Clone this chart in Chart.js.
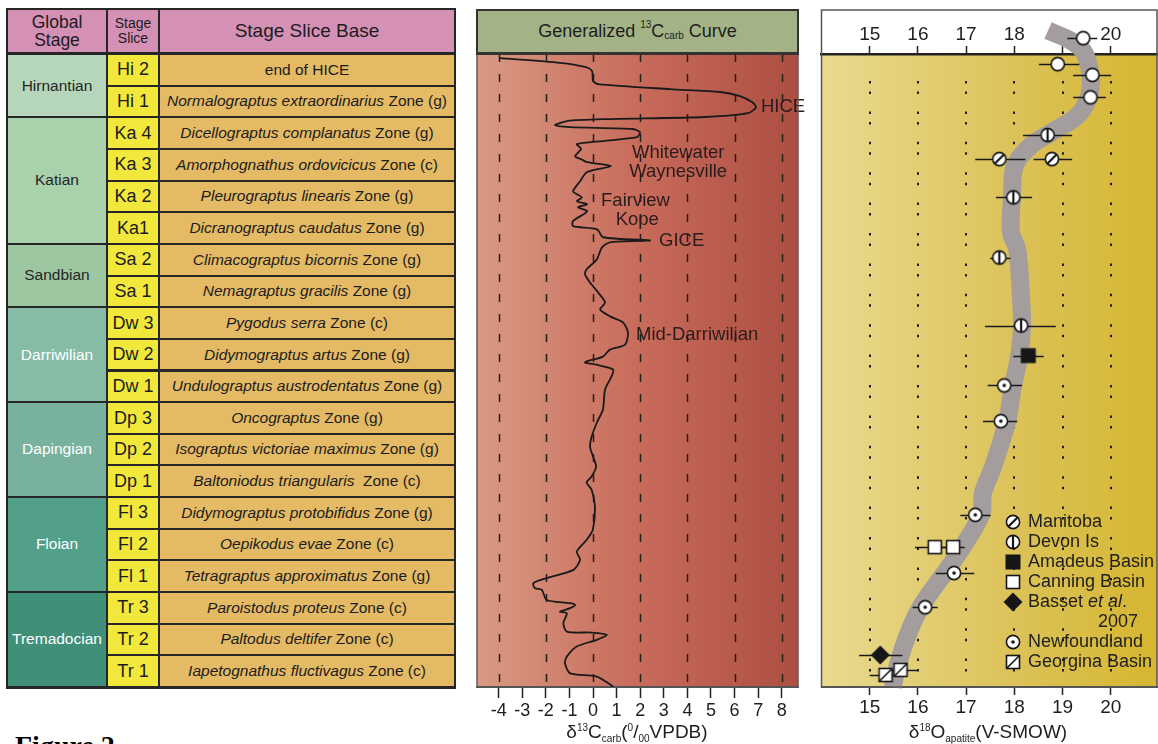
<!DOCTYPE html>
<html>
<head>
<meta charset="utf-8">
<script src="https://cdn.jsdelivr.net/npm/chart.js@4.4.1/dist/chart.umd.min.js"></script>
<style>
  html, body { margin: 0; padding: 0; background: #fff; width: 1158px; height: 744px; overflow: hidden;
    font-family: "Liberation Sans", Arial, sans-serif; }
  .abs { position: absolute; }
  #table { left: 6px; top: 8px; width: 450px; height: 681px; background: #262626; }
  .cell { position: absolute; display: flex; align-items: center; justify-content: center;
    text-align: center; color: #1c1c1c; line-height: 1.05; white-space: nowrap; }
  #c13head { left: 476px; top: 9px; width: 319px; height: 41px; background: #a3b386;
    border: 2px solid #333; border-bottom-width: 3px; display: flex; align-items: center;
    justify-content: center; font-size: 18px; color: #1e1e1e; }
  .up, .dn { font-size: 10px; position: relative; line-height: 0; }
  .up { top: -7px; }
  .dn { top: 4px; }
  .axis-title { width: 220px; text-align: center; font-size: 19px; line-height: 20px; color: #1e1e1e; top: 722px; }
  .fig { left: 15px; top: 732px; font: bold 28px "Liberation Serif", "Times New Roman", serif; line-height: 28px; }
</style>
</head>
<body>
<canvas id="carbon" class="abs" width="340" height="744" style="left:470px; top:0"></canvas>
<canvas id="oxygen" class="abs" width="348" height="744" style="left:810px; top:0"></canvas>
<div id="table" class="abs"></div>
<div id="c13head" class="abs">Generalized&nbsp;<span class="up">13</span>C<span class="dn">carb</span>&nbsp;Curve</div>
<div class="abs axis-title" style="left:527px">δ<span class="up">13</span>C<span class="dn">carb</span>(<span class="up">0</span>/<span class="dn">00</span>VPDB)</div>
<div class="abs axis-title" style="left:878px">δ<span class="up">18</span>O<span class="dn">apatite</span>(V-SMOW)</div>
<div class="abs fig">Figure 2</div>

<script>
//------------------------ DATA ----------------------------

// stratigraphy (top = youngest)
const stageNames = ["Hirnantian", "Katian", "Sandbian", "Darriwilian", "Dapingian", "Floian", "Tremadocian"];
const stageSpans = [2, 4, 2, 3, 3, 3, 3];
const sliceLabels = ["Hi 2", "Hi 1", "Ka 4", "Ka 3", "Ka 2", "Ka1", "Sa 2", "Sa 1", "Dw 3", "Dw 2",
  "Dw 1", "Dp 3", "Dp 2", "Dp 1", "Fl 3", "Fl 2", "Fl 1", "Tr 3", "Tr 2", "Tr 1"];
const zoneTaxa = ["", "Normalograptus extraordinarius", "Dicellograptus complanatus", "Amorphognathus ordovicicus",
  "Pleurograptus linearis", "Dicranograptus caudatus", "Climacograptus bicornis", "Nemagraptus gracilis",
  "Pygodus serra", "Didymograptus artus", "Undulograptus austrodentatus", "Oncograptus",
  "Isograptus victoriae maximus", "Baltoniodus triangularis", "Didymograptus protobifidus", "Oepikodus evae",
  "Tetragraptus approximatus", "Paroistodus proteus", "Paltodus deltifer", "Iapetognathus fluctivagus"];
const zoneTails = ["end of HICE", "Zone (g)", "Zone (g)", "Zone (c)", "Zone (g)", "Zone (g)", "Zone (g)", "Zone (g)",
  "Zone (c)", "Zone (g)", "Zone (g)", "Zone (g)", "Zone (g)", "&nbsp;Zone (c)", "Zone (g)", "Zone (c)",
  "Zone (g)", "Zone (c)", "Zone (c)", "Zone (c)"];

// generalized d13C curve: row position (0 = top of Hi 2, 20 = base of Tr 1) and value (permil)
const c13Rows = [0.13, 0.28, 0.41, 0.54, 0.85, 0.95, 1.11, 1.20, 1.33, 1.52, 1.68, 1.87, 1.99, 2.06, 2.12, 2.25,
  2.31, 2.37, 2.47, 2.63, 2.75, 2.85, 3.00, 3.23, 3.32, 3.42, 3.54, 3.73, 4.02, 4.34, 4.43, 4.53, 4.65, 4.75,
  4.84, 4.97, 5.28, 5.44, 5.54, 5.79, 5.89, 5.95, 6.11, 6.49, 6.80, 6.96, 7.22, 7.53, 7.85, 8.07, 8.29, 8.48,
  8.80, 9.18, 9.34, 9.56, 9.71, 9.75, 9.81, 9.97, 10.18, 10.60, 11.23, 11.65, 12.09, 12.41, 12.72, 13.04, 13.35,
  13.54, 13.77, 14.29, 15.03, 15.35, 15.72, 15.98, 16.30, 16.56, 16.72, 16.88, 16.93, 17.25, 17.35, 17.41, 17.51,
  17.62, 17.67, 17.98, 18.25, 18.28, 18.35, 18.51, 18.72, 19.04, 19.25, 19.57, 19.67, 19.99];
const c13Values = [-3.94, -1.40, -0.34, -0.04, 0.00, 0.21, 3.26, 5.38, 6.23, 6.74, 6.91, 6.57, 4.75, 0.42, -1.10,
  -1.61, -0.97, 1.69, 1.99, 1.86, 0.42, -0.68, -0.51, -0.76, -0.51, -0.25, 0.76, -0.25, -0.55, -0.85, -0.68,
  -0.47, -0.68, -0.25, -0.64, -0.25, -0.85, -0.85, 0.17, 0.42, 2.42, 0.72, 0.38, 0.16, -0.27, -0.34, -0.13, 0.21,
  0.51, 0.30, 0.72, 1.27, 1.48, 1.36, 0.72, 0.42, -0.27, -0.34, 0.08, 0.85, 0.79, 0.51, 0.42, 0.16, -0.06, -0.13,
  0.00, 0.13, -0.06, -0.27, -0.06, 0.08, -0.01, -0.27, -0.69, -0.55, -0.83, -1.96, -2.53, -2.46, -2.17, -1.96,
  -0.97, -0.76, -0.97, -1.40, -1.11, -1.26, -1.11, -0.06, 0.58, 0.16, -0.69, -1.11, -1.19, -0.97, 0.16, 0.86];
const c13Ticks = [-4, -3, -2, -1, 0, 1, 2, 3, 4, 5, 6, 7, 8];
const c13Dashed = [-4, -2, 0, 2, 4, 6, 8];
const c13Events = ["HICE", "Whitewater", "Waynesville", "Fairview", "Kope", "GICE", "Mid-Darriwilian"];
const c13EventValue = [7.12, 1.65, 1.53, 0.34, 0.96, 2.80, 1.82];
const c13EventRow = [1.68, 3.14, 3.74, 4.65, 5.25, 5.92, 8.89];

// d18O apatite
const d18Ticks = [15, 16, 17, 18, 19, 20];
const d18TopLabels = ["15", "16", "17", "18", "", "20"]; // 19 sits under the trend band
const trendRows = [-0.74, -0.43, -0.09, 0.38, 0.89, 1.42, 1.96, 2.47, 2.91, 3.54, 4.59, 5.63, 6.17, 7.75, 8.61,
  9.56, 10.51, 11.61, 13.04, 13.87, 14.56, 15.89, 17.47, 18.51, 19.56, 20.0];
const trendValues = [18.70, 19.16, 19.43, 19.55, 19.59, 19.53, 19.30, 18.78, 18.33, 18.01, 17.95, 17.93, 18.06,
  18.14, 18.16, 18.10, 17.97, 17.85, 17.56, 17.35, 17.31, 16.79, 16.06, 15.75, 15.54, 15.48];

const plainRows = [-0.50, 0.32, 0.66, 1.37];
const plainValues = [19.43, 18.90, 19.62, 19.58];
const plainLow = [19.10, 18.51, 19.22, 19.22];
const plainHigh = [19.72, 19.35, 20.01, 19.90];

const manitobaRows = [3.32, 3.32];
const manitobaValues = [17.69, 18.78];
const manitobaLow = [17.19, 18.40];
const manitobaHigh = [18.23, 19.20];

const devonRows = [2.56, 4.53, 6.43, 8.58];
const devonValues = [18.69, 17.98, 17.69, 18.14];
const devonLow = [18.18, 17.62, 17.50, 17.39];
const devonHigh = [19.20, 18.37, 17.92, 18.86];

const amadeusRows = [9.53];
const amadeusValues = [18.29];
const amadeusLow = [17.98];
const amadeusHigh = [18.61];

const canningRows = [15.58, 15.58];
const canningValues = [16.35, 16.73];
const canningLow = [15.94, 16.38];
const canningHigh = [16.66, 16.97];

const bassetRows = [18.99];
const bassetValues = [15.22];
const bassetLow = [14.78];
const bassetHigh = [15.68];

const newfoundlandRows = [10.47, 11.60, 14.56, 16.40, 17.48];
const newfoundlandValues = [17.79, 17.72, 17.19, 16.75, 16.15];
const newfoundlandLow = [17.45, 17.35, 16.88, 16.37, 15.89];
const newfoundlandHigh = [18.16, 18.06, 17.51, 17.17, 16.41];

const georginaRows = [19.46, 19.62];
const georginaValues = [15.64, 15.33];
const georginaLow = [15.40, 15.00];
const georginaHigh = [16.01, 15.67];

//------------------------ STYLE ----------------------------

const stageColors = ["#b5d6bb", "#a9d1ab", "#9dc7a1", "#86bba6", "#78b29f", "#52a08a", "#3f8f79"];
const stageText = ["#262626", "#262626", "#262626", "#fff", "#fff", "#fff", "#fff"];
const ROW_TOP = 54, ROW_BOTTOM = 687;
const ROW_H = (ROW_BOTTOM - ROW_TOP) / sliceLabels.length;

Chart.defaults.font.family = '"Liberation Sans", Arial, sans-serif';
Chart.defaults.color = "#1e1e1e";

//------------------------ TABLE ----------------------------

const table = document.getElementById("table");
const colEdges = [7, 107, 159, 455];
const OFF_X = 6, OFF_Y = 8;

function addCell(x0, x1, y0, y1, html, css) {
  const d = document.createElement("div");
  d.className = "cell";
  d.style.left = (x0 + 1 - OFF_X) + "px";
  d.style.top = (y0 + 1 - OFF_Y) + "px";
  d.style.width = (x1 - x0 - 2) + "px";
  d.style.height = (y1 - y0 - 2) + "px";
  d.innerHTML = html;
  Object.assign(d.style, css);
  table.appendChild(d);
}

// header
addCell(colEdges[0], colEdges[1], 9, 53, "Global<br>Stage", { background: "#d590b6", fontSize: "17.5px" });
addCell(colEdges[1], colEdges[2], 9, 53, "Stage<br>Slice", { background: "#d590b6", fontSize: "14px" });
addCell(colEdges[2], colEdges[3], 9, 53, "Stage Slice Base", { background: "#d590b6", fontSize: "19px" });

let start = 0;
stageNames.forEach((name, i) => {
  const y0 = ROW_TOP + start * ROW_H, y1 = ROW_TOP + (start + stageSpans[i]) * ROW_H;
  addCell(colEdges[0], colEdges[1], y0, y1, name,
    { background: stageColors[i], color: stageText[i], fontSize: "15.5px" });
  start += stageSpans[i];
});

sliceLabels.forEach((label, i) => {
  const y0 = ROW_TOP + i * ROW_H, y1 = y0 + ROW_H;
  addCell(colEdges[1], colEdges[2], y0, y1, label, { background: "#f2e83c", fontSize: "18px" });
  const zone = zoneTaxa[i] ? "<i>" + zoneTaxa[i] + "</i>&nbsp;" + zoneTails[i] : zoneTails[i];
  addCell(colEdges[2], colEdges[3], y0, y1, zone, { background: "#e5ba65", fontSize: "15.5px" });
});

//------------------------ CARBON CURVE ----------------------------

const carbonPlugin = {
  id: "carbonPlugin",
  beforeDraw(chart) {
    const { ctx, chartArea: a, scales } = chart;
    ctx.save();
    const g = ctx.createLinearGradient(a.left, 0, a.right, 0);
    g.addColorStop(0, "#d99a83");
    g.addColorStop(0.5, "#c86b5b");
    g.addColorStop(1, "#ac4f42");
    ctx.fillStyle = g;
    ctx.fillRect(a.left, a.top, a.right - a.left, a.bottom - a.top);

    // dashed verticals at even values
    ctx.strokeStyle = "#1f1f1f";
    ctx.lineWidth = 1.5;
    ctx.setLineDash([8, 12]);
    c13Dashed.forEach(v => {
      const x = Math.round(scales.x.getPixelForValue(v)) + 0.5;
      ctx.beginPath();
      ctx.moveTo(x, a.top);
      ctx.lineTo(x, a.bottom);
      ctx.stroke();
    });
    ctx.restore();
  },
  afterDatasetsDraw(chart) {
    const { ctx, scales } = chart;
    ctx.save();
    ctx.font = '18.5px "Liberation Sans", Arial, sans-serif';
    ctx.fillStyle = "#2a1c1a";
    ctx.textBaseline = "middle";
    c13Events.forEach((txt, i) => {
      ctx.fillText(txt, scales.x.getPixelForValue(c13EventValue[i]), scales.y.getPixelForValue(c13EventRow[i]));
    });
    ctx.restore();
  },
  afterDraw(chart) {
    const { ctx, chartArea: a } = chart;
    ctx.save();
    ctx.strokeStyle = "#6a5a58";
    ctx.lineWidth = 1.5;
    ctx.beginPath();
    ctx.moveTo(a.left, 10); ctx.lineTo(a.left, a.bottom);
    ctx.moveTo(a.right, 10); ctx.lineTo(a.right, a.bottom);
    ctx.stroke();
    ctx.restore();
  }
};

new Chart(document.getElementById("carbon"), {
  type: "scatter",
  data: {
    datasets: [{
      data: c13Values.map((v, i) => ({ x: v, y: c13Rows[i] })),
      showLine: true,
      borderColor: "#1a1a1a",
      borderWidth: 1.8,
      pointRadius: 0,
      tension: 0.25,
    }],
  },
  options: {
    responsive: false,
    animation: false,
    devicePixelRatio: 1,
    layout: { autoPadding: false, padding: { left: 7, right: 12, top: ROW_TOP, bottom: 0 } },
    plugins: { legend: { display: false }, tooltip: { enabled: false } },
    scales: {
      x: {
        type: "linear",
        min: -4.92,
        max: 8.69,
        afterBuildTicks: s => { s.ticks = c13Ticks.map(v => ({ value: v })); },
        afterFit: s => { s.height = 744 - ROW_BOTTOM; },
        ticks: { font: { size: 18 }, color: "#1e1e1e", padding: 2, maxRotation: 0, autoSkip: false,
          callback: v => String(v) },
        grid: { drawOnChartArea: false, drawTicks: true, tickLength: 11, tickColor: "#222", tickWidth: 1.5 },
        border: { display: true, color: "#555", width: 2 },
      },
      y: { type: "linear", min: 0, max: 20, reverse: true, display: false },
    },
  },
  plugins: [carbonPlugin],
});

//------------------------ OXYGEN ISOTOPES ----------------------------

function makeSymbol(kind) {
  const c = document.createElement("canvas");
  c.width = 24; c.height = 24;
  const g = c.getContext("2d");
  const m = 12, r = 6.6;
  g.lineWidth = 1.6;
  g.strokeStyle = "#161616";
  g.fillStyle = "#fff";
  if (["plain", "slash", "bar", "dot"].includes(kind)) {
    g.beginPath(); g.arc(m, m, r, 0, Math.PI * 2); g.fill(); g.stroke();
    if (kind === "slash") {
      g.lineWidth = 2.2;
      g.beginPath(); g.moveTo(m - r * 0.72, m + r * 0.72); g.lineTo(m + r * 0.72, m - r * 0.72); g.stroke();
    } else if (kind === "bar") {
      g.lineWidth = 2.2;
      g.beginPath(); g.moveTo(m, m - r); g.lineTo(m, m + r); g.stroke();
    } else if (kind === "dot") {
      g.fillStyle = "#161616";
      g.beginPath(); g.arc(m, m, 1.8, 0, Math.PI * 2); g.fill();
    }
  } else if (kind === "blackSquare") {
    g.fillStyle = "#161616";
    g.fillRect(4.5, 4.5, 15, 15);
  } else if (kind === "whiteSquare" || kind === "halfSquare") {
    g.fillRect(5.5, 5.5, 13, 13);
    g.strokeRect(5.5, 5.5, 13, 13);
    if (kind === "halfSquare") {
      g.beginPath(); g.moveTo(5.5, 18.5); g.lineTo(18.5, 5.5); g.stroke();
    }
  } else if (kind === "diamond") {
    g.fillStyle = "#161616";
    g.beginPath();
    g.moveTo(m, 2.5); g.lineTo(21.5, m); g.lineTo(m, 21.5); g.lineTo(2.5, m);
    g.closePath(); g.fill();
  }
  return c;
}

const sites = [
  { label: "", symbol: makeSymbol("plain"), rows: plainRows, values: plainValues, low: plainLow, high: plainHigh },
  { label: "Manitoba", symbol: makeSymbol("slash"), rows: manitobaRows, values: manitobaValues, low: manitobaLow, high: manitobaHigh },
  { label: "Devon Is", symbol: makeSymbol("bar"), rows: devonRows, values: devonValues, low: devonLow, high: devonHigh },
  { label: "Amadeus Basin", symbol: makeSymbol("blackSquare"), rows: amadeusRows, values: amadeusValues, low: amadeusLow, high: amadeusHigh },
  { label: "Canning Basin", symbol: makeSymbol("whiteSquare"), rows: canningRows, values: canningValues, low: canningLow, high: canningHigh },
  { label: "Basset et al. 2007", symbol: makeSymbol("diamond"), rows: bassetRows, values: bassetValues, low: bassetLow, high: bassetHigh },
  { label: "Newfoundland", symbol: makeSymbol("dot"), rows: newfoundlandRows, values: newfoundlandValues, low: newfoundlandLow, high: newfoundlandHigh },
  { label: "Georgina Basin", symbol: makeSymbol("halfSquare"), rows: georginaRows, values: georginaValues, low: georginaLow, high: georginaHigh },
];

const oxygenPlugin = {
  id: "oxygenPlugin",
  beforeDraw(chart) {
    const { ctx, chartArea: a } = chart;
    ctx.save();
    ctx.fillStyle = "#fff";
    ctx.fillRect(a.left, 10, a.right - a.left, a.top - 10);
    const g = ctx.createLinearGradient(a.left, 0, a.right, 0);
    g.addColorStop(0, "#e9da8f");
    g.addColorStop(0.55, "#dcc35b");
    g.addColorStop(1, "#d6b630");
    ctx.fillStyle = g;
    ctx.fillRect(a.left, a.top, a.right - a.left, a.bottom - a.top);
    ctx.restore();
  },
  beforeDatasetsDraw(chart) {
    const { ctx, chartArea: a, scales } = chart;
    ctx.save();
    ctx.strokeStyle = "#1e1e1e";
    ctx.lineWidth = 2;
    ctx.setLineDash([2.5, 8, 2.5, 17.4]);
    d18Ticks.forEach(v => {
      const x = Math.round(scales.x.getPixelForValue(v));
      ctx.beginPath();
      ctx.moveTo(x, 81);
      ctx.lineTo(x, a.bottom);
      ctx.stroke();
    });
    ctx.restore();
  },
  // error bars go on top of the trend band (dataset 0), under the symbols
  afterDatasetDraw(chart, args) {
    if (args.index !== 0) return;
    const { ctx, scales } = chart;
    ctx.save();
    ctx.strokeStyle = "#1a1a1a";
    ctx.lineWidth = 1.5;
    sites.forEach(s => {
      s.rows.forEach((row, i) => {
        const y = Math.round(scales.y.getPixelForValue(row)) + 0.5;
        ctx.beginPath();
        ctx.moveTo(scales.x.getPixelForValue(s.low[i]), y);
        ctx.lineTo(scales.x.getPixelForValue(s.high[i]), y);
        ctx.stroke();
      });
    });
    ctx.restore();
  },
  afterDraw(chart) {
    const { ctx, chartArea: a } = chart;
    ctx.save();
    ctx.strokeStyle = "#555";
    ctx.lineWidth = 1.5;
    ctx.strokeRect(a.left, 10, a.right - a.left, a.bottom - 10);

    // legend
    const symX = 203, textX = 218;
    const font = '18px "Liberation Sans", Arial, sans-serif';
    ctx.fillStyle = "#1e1e1e";
    ctx.textBaseline = "middle";
    let y = 522;
    sites.slice(1).forEach(s => {
      ctx.drawImage(s.symbol, symX - 12, y - 12);
      ctx.font = font;
      if (s.label.startsWith("Basset")) {
        ctx.fillText("Basset ", textX, y);
        let x = textX + ctx.measureText("Basset ").width;
        ctx.font = "italic " + font;
        ctx.fillText("et al", x, y);
        x += ctx.measureText("et al").width;
        ctx.font = font;
        ctx.fillText(".", x, y);
        y += 20;
        ctx.textAlign = "right";
        ctx.fillText("2007", 328, y);
        ctx.textAlign = "left";
      } else {
        ctx.fillText(s.label, textX, y);
      }
      y += 20;
    });
    ctx.restore();
  }
};

const sharedGrid = { drawOnChartArea: false, drawTicks: true, tickLength: 8, tickColor: "#222", tickWidth: 1.5 };

new Chart(document.getElementById("oxygen"), {
  type: "scatter",
  data: {
    datasets: [
      {
        data: trendValues.map((v, i) => ({ x: v, y: trendRows[i] })),
        showLine: true,
        borderColor: "#a39d9e",
        borderWidth: 18,
        borderCapStyle: "butt",
        pointRadius: 0,
        tension: 0.35,
        clip: false,
        order: 10,
      },
      ...sites.map(s => ({
        data: s.values.map((v, i) => ({ x: v, y: s.rows[i] })),
        pointStyle: s.symbol,
        pointRadius: 18,
        clip: false,
        order: 0,
      })),
    ],
  },
  options: {
    responsive: false,
    animation: false,
    devicePixelRatio: 1,
    layout: { autoPadding: false, padding: { left: 11.5, right: 1, top: 10, bottom: 0 } },
    plugins: { legend: { display: false }, tooltip: { enabled: false } },
    scales: {
      x: {
        type: "linear", position: "bottom", min: 14, max: 20.96,
        afterBuildTicks: s => { s.ticks = d18Ticks.map(v => ({ value: v })); },
        afterFit: s => { s.height = 744 - ROW_BOTTOM; },
        grid: sharedGrid,
        ticks: { font: { size: 19 }, color: "#1e1e1e", padding: 1.5, maxRotation: 0, autoSkip: false,
          callback: v => String(v) },
        border: { display: true, color: "#555", width: 2 },
      },
      x2: {
        type: "linear", position: "top", min: 14, max: 20.96,
        afterBuildTicks: s => { s.ticks = d18Ticks.map(v => ({ value: v })); },
        afterFit: s => { s.height = ROW_TOP - 10; },
        grid: sharedGrid,
        ticks: { font: { size: 19 }, color: "#1e1e1e", padding: 0, maxRotation: 0, autoSkip: false,
          callback: (v, i) => d18TopLabels[i] },
        border: { display: true, color: "#222", width: 2.5 },
      },
      y: { type: "linear", min: 0, max: 20, reverse: true, display: false },
    },
  },
  plugins: [oxygenPlugin],
});
</script>
</body>
</html>
